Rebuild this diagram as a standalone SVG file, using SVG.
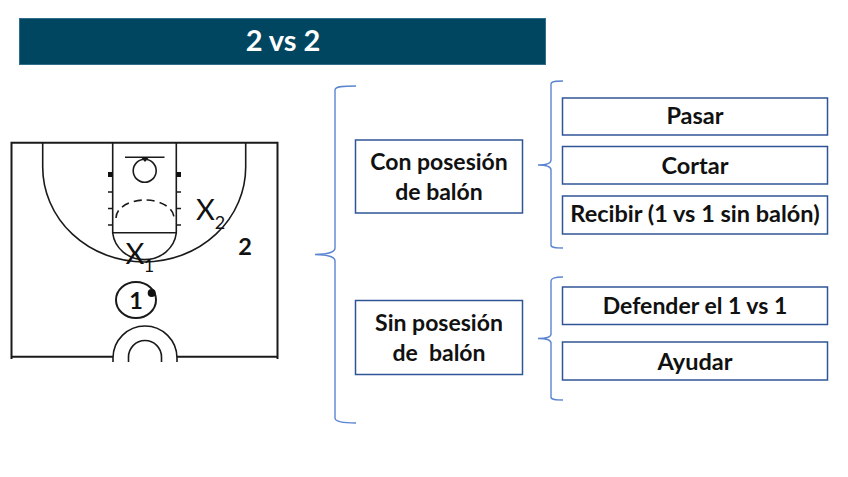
<svg xmlns="http://www.w3.org/2000/svg" width="848" height="477" viewBox="0 0 848 477">
<style>
text{font-family:Lato,"Open Sans","Liberation Sans",sans-serif;font-weight:700;fill:#111;text-anchor:middle;font-size:23.500px}
.s{font-size:23px}
.box{fill:#fff;stroke:#2f5597;stroke-width:1.5}
.brace{fill:none;stroke:#5b85d0;stroke-width:1.4}
.court{fill:none;stroke:#1a1a1a;stroke-width:2}
.thin{fill:none;stroke:#1a1a1a;stroke-width:1.600}
.t{font-size:29px;fill:#fff}
.x{font-weight:400;font-size:29px}
.sub{font-weight:400;font-size:18px}
</style>
<rect width="848" height="477" fill="#fff"/>
<g id="title"><rect x="19.500" y="18.500" width="526" height="46" fill="#004660" stroke="#2f6f8c" stroke-width="1"/><text class="t" x="283" y="51">2 vs 2</text></g>
<g id="court">
<path class="court" d="M11.500 359V142.700H277.500V359"/>
<path class="court" d="M11.500 356.700H113M177 356.700H277.500"/>
<path class="thin" d="M42.700 142.700V167A101.500 95 0 0 0 245.700 167V142.700"/>
<path class="thin" d="M112.700 142.700V233A32 30 0 0 0 176.300 233V142.700"/>
<path class="thin" d="M112.700 232.700H176.300"/>
<path class="thin" stroke-dasharray="8 5" d="M116 218A29 18 0 0 1 174 218"/>
<path class="thin" d="M125 157.300H164.500"/><path d="M141 157.300H149L145 162Z" fill="#111"/>
<circle class="thin" cx="144.700" cy="170.700" r="11.500"/>
<path class="thin" d="M108 192H112.700M176.300 192H181M108 208.500H112.700M176.300 208.500H181M108 225H112.700M176.300 225H181"/>
<rect x="108" y="172" width="4.700" height="5" fill="#111"/><rect x="176.300" y="172" width="4.700" height="5" fill="#111"/>
<path class="thin" d="M113 362V358A32 32 0 0 1 177 358V362"/>
<path class="thin" d="M128.500 362V357A16.500 16.500 0 0 1 161.500 357V362"/>
<text class="x" x="135" y="264">X</text>
<text class="sub" x="149" y="272">1</text>
<text class="x" x="205.500" y="220">X</text>
<text class="sub" x="220" y="229">2</text>
<text x="245" y="255">2</text>
<ellipse class="court" cx="136" cy="300" rx="20" ry="18"/>
<circle cx="151.700" cy="293" r="4" fill="#111"/>
<text x="136" y="309">1</text>
</g>
<g id="connectors">
<path class="brace" d="M356 86C345 86 335 86 335 90V248C335 252 330 254 315 254.500C330 255 335 257 335 261V418C335 422 345 423 356 423"/>
<path class="brace" d="M563 81C556 81 551 81 551 84V160C551 163 548 165 538 165C548 165 551 167 551 170V245C551 248 556 248 563 248"/>
<path class="brace" d="M563 277C556 277 551 278 551 281V334C551 337 548 338.500 538 338.500C548 338.500 551 340 551 343V397C551 400 556 400 563 400"/>
</g>
<g id="n-con"><rect class="box" x="355.500" y="140" width="167" height="73"/><text class="s" x="439" y="170">Con posesión</text><text class="s" x="439" y="200">de balón</text></g>
<g id="n-sin"><rect class="box" x="355.500" y="300.500" width="167" height="74"/><text class="s" x="439" y="331">Sin posesión</text><text class="s" x="439" y="361" xml:space="preserve">de  balón</text></g>
<g id="n-pasar"><rect class="box" x="562.500" y="98" width="265" height="37"/><text x="695" y="124">Pasar</text></g>
<g id="n-cortar"><rect class="box" x="562.500" y="146.500" width="265" height="37.500"/><text x="695" y="174">Cortar</text></g>
<g id="n-recibir"><rect class="box" x="562.500" y="196" width="265" height="38"/><text x="695" y="222">Recibir (1 vs 1 sin balón)</text></g>
<g id="n-defender"><rect class="box" x="562.500" y="287" width="265" height="37.500"/><text class="s" x="695" y="314">Defender el 1 vs 1</text></g>
<g id="n-ayudar"><rect class="box" x="562.500" y="342" width="265" height="38"/><text x="695" y="370">Ayudar</text></g>
</svg>
